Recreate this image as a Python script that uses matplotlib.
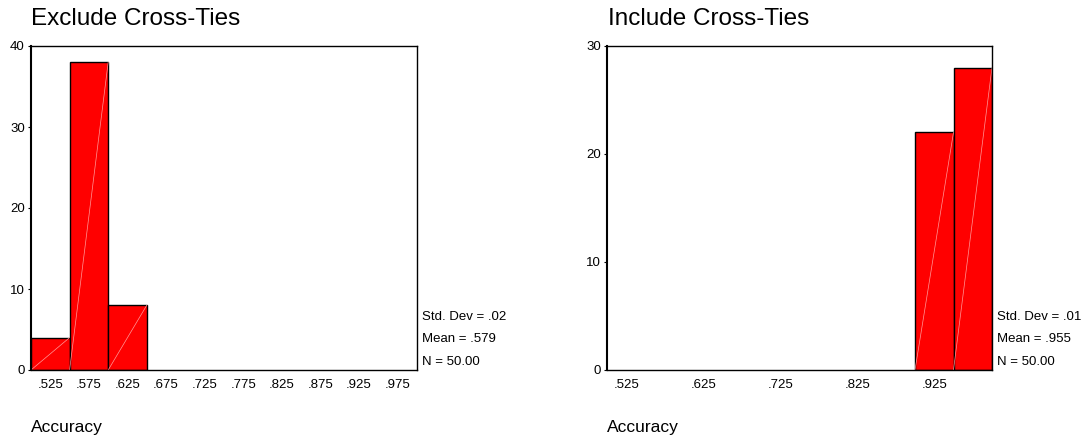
import matplotlib
matplotlib.use('Agg')
import matplotlib.pyplot as plt

plt.rcParams['font.family'] = ['Liberation Sans', 'DejaVu Sans']

# histogram data (bin centres, counts), bin width .05
bin_width = 0.05
excl_centers = [0.525, 0.575, 0.625]
excl_counts = [4, 38, 8]
incl_centers = [0.925, 0.975]
incl_counts = [22, 28]

excl_stats = ['Std. Dev = .02', 'Mean = .579', 'N = 50.00']
incl_stats = ['Std. Dev = .01', 'Mean = .955', 'N = 50.00']

excl_xticks = [0.525, 0.575, 0.625, 0.675, 0.725, 0.775, 0.825, 0.875, 0.925, 0.975]
incl_xticks = [0.525, 0.625, 0.725, 0.825, 0.925]
excl_yticks = [0, 10, 20, 30, 40]
incl_yticks = [0, 10, 20, 30]

titles = ['Exclude Cross-Ties', 'Include Cross-Ties']

W, H = 1085, 438
fig = plt.figure(figsize=(W / 100, H / 100), dpi=100)


def draw_hist(rect, centers, counts, xticks, yticks, stats, title):
    ax = fig.add_axes(rect)
    ax.bar(centers, counts, width=bin_width, color='#ff0000',
           edgecolor='black', linewidth=1.0, zorder=2)
    # the faint diagonals SPSS leaves in each bar
    for c, n in zip(centers, counts):
        ax.plot([c - bin_width / 2, c + bin_width / 2], [0, n],
                color='#ff9a9a', linewidth=0.5, zorder=3)
    ax.set_xlim(0.5, 1.0)
    ax.set_ylim(0, yticks[-1])
    ax.set_xticks(xticks)
    ax.set_xticklabels([('%.3f' % t)[1:] for t in xticks])
    ax.set_yticks(yticks)
    ax.tick_params(axis='x', length=0, pad=6.5, labelsize=9.5)
    ax.tick_params(axis='y', length=2.2, width=0.8, pad=2.2, labelsize=9.5)
    for s in ax.spines.values():
        s.set_linewidth(1.0)
        s.set_zorder(4)
    ax.spines['left'].set_linewidth(1.5)

    for txt, y in zip(stats, [0.1543, 0.0849, 0.0154]):
        ax.text(1.013, y, txt, transform=ax.transAxes, fontsize=9.5,
                va='baseline', ha='left')

    x0 = rect[0]
    fig.text(x0 + 0.5 / W, 1 - 25 / H, title, fontsize=17.5, va='baseline', ha='left')
    fig.text(x0, 1 - 431.7 / H, 'Accuracy', fontsize=12.5, va='baseline', ha='left')
    return ax


ax1 = draw_hist([31 / W, 1 - 370 / H, 386 / W, 324 / H],
                excl_centers, excl_counts, excl_xticks, excl_yticks,
                excl_stats, titles[0])
ax2 = draw_hist([607 / W, 1 - 370 / H, 385 / W, 324 / H],
                incl_centers, incl_counts, incl_xticks, incl_yticks,
                incl_stats, titles[1])

fig.savefig('out.png', dpi=100)
